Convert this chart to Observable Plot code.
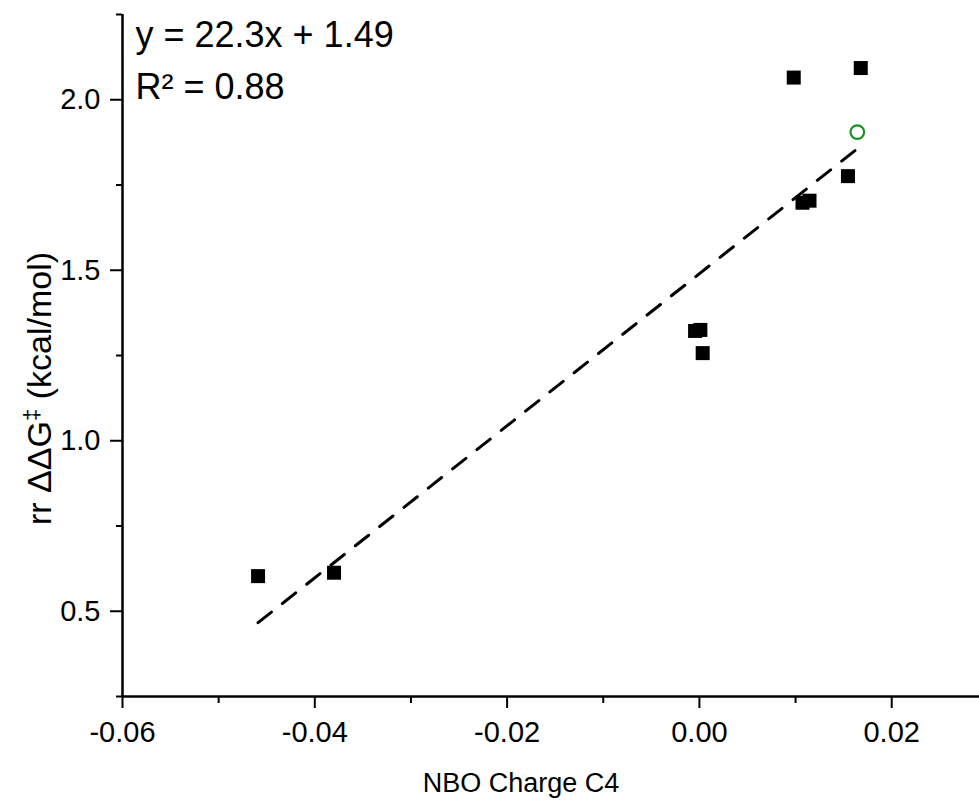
<!DOCTYPE html>
<html><head><meta charset="utf-8">
<script src="https://cdn.jsdelivr.net/npm/d3@7"></script>
<script src="https://cdn.jsdelivr.net/npm/@observablehq/plot@0.6"></script>
<style>body{margin:0;background:#fff;overflow:hidden} svg{display:block}</style>
</head><body><div id="chart"></div>
<script>
// Data
const chargeC4 = [-0.0459, -0.0380, -0.00045, 0.0001, 0.00034, 0.00981, 0.01678, 0.01072, 0.01145, 0.01545];
const ddG      = [0.603, 0.613, 1.322, 1.325, 1.257, 2.065, 2.093, 1.698, 1.704, 1.776];
const outlierCharge = [0.01642];
const outlierDdG    = [1.905];
const fitSlope = 22.3, fitIntercept = 1.49, fitR2 = 0.88;
const xMajorTicks = [-0.06, -0.04, -0.02, 0.00, 0.02];
const xMinorTicks = [-0.05, -0.03, -0.01, 0.01];
const yMajorTicks = [0.5, 1.0, 1.5, 2.0];
const yMinorTicks = [0.25, 0.75, 1.25, 1.75, 2.25];
const xTitle = "NBO Charge C4";
const yTitle = "rr ΔΔG‡ (kcal/mol)";

const points = chargeC4.map((x, i) => ({x, y: ddG[i]}));
const outliers = outlierCharge.map((x, i) => ({x, y: outlierDdG[i]}));
const xr = d3.extent(chargeC4);
const fitLine = xr.map(x => ({x, y: fitSlope * x + fitIntercept}));

const font = "'Liberation Sans', Arial, Helvetica, sans-serif";

const chart = Plot.plot({
  width: 979,
  height: 806,
  marginLeft: 122,
  marginRight: 0,
  marginTop: 14,
  marginBottom: 110,
  style: {fontFamily: font, fontSize: "29px", color: "#000", background: "#fff"},
  x: {domain: [-0.06, 0.02913]},
  y: {domain: [0.25, 2.25]},
  marks: [
    Plot.axisX({ticks: xMajorTicks, tickSize: 12, tickPadding: 13, strokeWidth: 2, tickFormat: d => d.toFixed(2), label: null, fontSize: 29}),
    Plot.axisX({ticks: xMinorTicks, tickSize: 7, strokeWidth: 2, text: null, label: null}),
    Plot.axisY({ticks: yMajorTicks, tickSize: 12, tickPadding: 10, strokeWidth: 2, tickFormat: d => d.toFixed(1), label: null, fontSize: 29}),
    Plot.axisY({ticks: yMinorTicks, tickSize: 6, strokeWidth: 2, text: null, label: null}),
    Plot.ruleX([-0.06], {stroke: "#000", strokeWidth: 2.5}),
    Plot.ruleY([0.25], {stroke: "#000", strokeWidth: 2.5}),
    Plot.line(fitLine, {x: "x", y: "y", stroke: "#000", strokeWidth: 3, strokeDasharray: "17,14"}),
    Plot.dot(points, {x: "x", y: "y", symbol: "square", r: 7.9, fill: "#000", stroke: "none"}),
    Plot.dot(outliers, {x: "x", y: "y", symbol: "circle", r: 6.8, fill: "none", stroke: "#1f8f1f", strokeWidth: 2.2}),
    Plot.text([`y = ${fitSlope}x + ${fitIntercept}\nR² = ${fitR2}`], {frameAnchor: "top-left", textAnchor: "start", lineAnchor: "top", dx: 13, dy: -4, fontSize: 36, lineHeight: 1.43, fill: "#000"}),
    Plot.text([xTitle], {frameAnchor: "bottom", dx: -30, dy: 87, fontSize: 27, lineAnchor: "middle", fill: "#000"}),
    Plot.text([yTitle], {frameAnchor: "left", textAnchor: "middle", rotate: -90, dx: -82, dy: 33, fontSize: 34, lineAnchor: "middle", fill: "#000"})
  ]
});

// superscript the double dagger in the y title
chart.querySelectorAll("text").forEach(t => {
  if (t.textContent === yTitle) {
    const [before, after] = yTitle.split("‡");
    t.textContent = "";
    const ns = "http://www.w3.org/2000/svg";
    const a = document.createElementNS(ns, "tspan"); a.textContent = before;
    const b = document.createElementNS(ns, "tspan"); b.textContent = "‡";
    b.setAttribute("baseline-shift", "super"); b.setAttribute("font-size", "65%");
    const c = document.createElementNS(ns, "tspan"); c.textContent = after;
    t.append(a, b, c);
  }
});

document.getElementById("chart").append(chart);
</script>
</body></html>
